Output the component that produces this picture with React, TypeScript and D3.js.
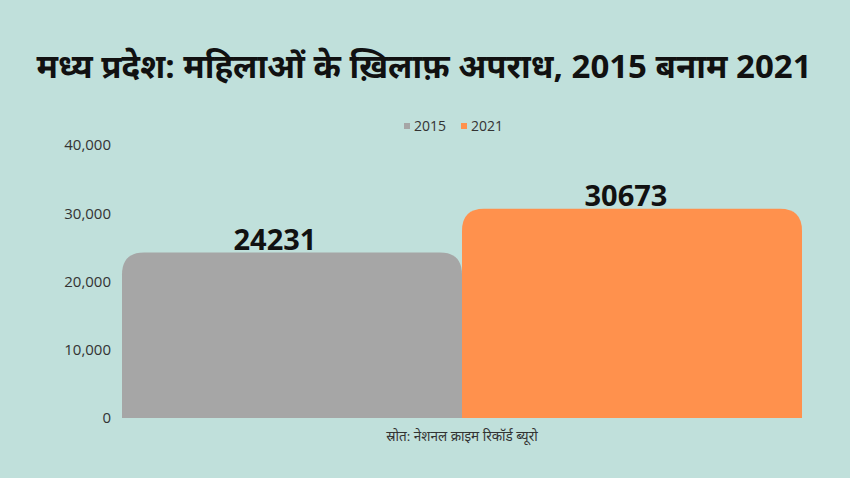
import * as d3 from 'd3'

// MP crimes against women, 2015 vs 2021 — two adjacent bars with rounded tops.
const years = ['2015', '2021']
const cases = [24231, 30673]
const colors = ['#a6a6a6', '#ff914d']
const yTicks = [0, 10000, 20000, 30000, 40000]

const W = 850
const H = 478
const BG = '#c0e0db'
// value labels sit a little left of the bar centres in the original
const labelShift = [-17, -6]

function topRounded(x: number, y: number, w: number, h: number, r: number) {
  return `M${x},${y + h}V${y + r}Q${x},${y} ${x + r},${y}H${x + w - r}Q${x + w},${y} ${x + w},${y + r}V${y + h}Z`
}

export default function App() {
  const m = { top: 145, right: 48, bottom: 60, left: 122 }
  const x = d3.scaleBand<string>().domain(years).range([m.left, W - m.right]).padding(0)
  const y = d3.scaleLinear().domain([0, 40000]).range([H - m.bottom, m.top])
  const fmt = d3.format(',')
  const font = "'Open Sans', 'Noto Sans', sans-serif"

  return (
    <svg width={W} height={H} style={{ position: 'absolute', left: 0, top: 0, background: BG }}>
      <rect width={W} height={H} fill={BG} />
      <text x={424} y={78} textAnchor="middle" fontFamily={font} fontWeight={700} fontSize={33} fill="#111">
        मध्य प्रदेश: महिलाओं के ख़िलाफ़ अपराध, 2015 बनाम 2021
      </text>

      {/* legend */}
      <g fontFamily={font} fontSize={14} fill="#333">
        {years.map((yr, i) => (
          <g key={yr} transform={`translate(${404 + i * 57},126)`}>
            <rect x={0} y={-3} width={6} height={6} fill={colors[i]} />
            <text x={10} y={0} dy="0.35em">
              {yr}
            </text>
          </g>
        ))}
      </g>

      {/* y axis labels */}
      <g fontFamily={font} fontSize={15} fill="#333" textAnchor="end">
        {yTicks.map((t) => (
          <text key={t} x={111} y={y(t)} dy="0.35em">
            {fmt(t)}
          </text>
        ))}
      </g>

      {years.map((yr, i) => {
        const bx = x(yr)!
        const by = y(cases[i])
        return (
          <g key={yr}>
            <path d={topRounded(bx, by, x.bandwidth(), y(0) - by, 22)} fill={colors[i]} />
            <text
              x={bx + x.bandwidth() / 2 + labelShift[i]}
              y={by - 3}
              textAnchor="middle"
              fontFamily={font}
              fontWeight={700}
              fontSize={29}
              fill="#111"
            >
              {cases[i]}
            </text>
          </g>
        )
      })}

      <text x={462} y={441} textAnchor="middle" fontFamily={font} fontSize={13.5} fill="#333">
        स्रोत: नेशनल क्राइम रिकॉर्ड ब्यूरो
      </text>
    </svg>
  )
}
